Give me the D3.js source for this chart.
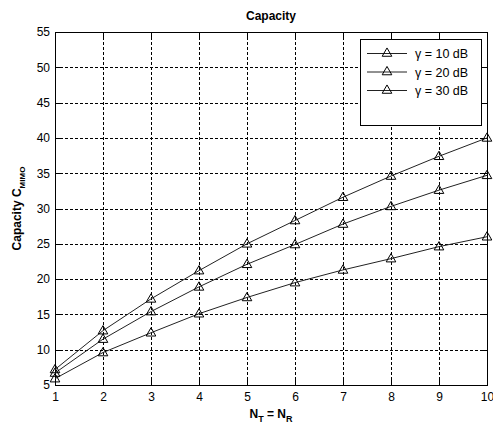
<!DOCTYPE html>
<html>
<head>
<meta charset="utf-8">
<script src="https://cdn.jsdelivr.net/npm/d3@7"></script>
<style>
  html, body { margin: 0; padding: 0; background: #fff; }
  svg { display: block; }
  text { font-family: Arial, "Liberation Sans", Helvetica, sans-serif; fill: #000; }
</style>
</head>
<body>
<svg id="chart" width="493" height="426"></svg>
<script>
// Antenna counts (N_T = N_R)
const antennas = [1, 2, 3, 4, 5, 6, 7, 8, 9, 10];

// Ergodic MIMO capacity per SNR
const cap10dB = [5.9, 9.6, 12.4, 15.1, 17.4, 19.5, 21.3, 22.9, 24.6, 26.0];
const cap20dB = [6.7, 11.5, 15.4, 18.9, 22.1, 24.9, 27.8, 30.3, 32.6, 34.7];
const cap30dB = [7.2, 12.7, 17.2, 21.2, 25.0, 28.3, 31.6, 34.6, 37.4, 40.0];

const seriesNames = ["γ = 10 dB", "γ = 20 dB", "γ = 30 dB"];
const seriesValues = [cap10dB, cap20dB, cap30dB];

const xTicks = [1, 2, 3, 4, 5, 6, 7, 8, 9, 10];
const yTicks = [5, 10, 15, 20, 25, 30, 35, 40, 45, 50, 55];

const svg = d3.select("#chart");
const plot = { left: 55, right: 487, top: 32, bottom: 385 };

const x = d3.scaleLinear().domain([1, 10]).range([plot.left, plot.right]);
const y = d3.scaleLinear().domain([5, 55]).range([plot.bottom, plot.top]);

// Dotted grid
const grid = svg.append("g").attr("stroke", "#000").attr("stroke-width", 1)
  .attr("stroke-dasharray", "3,2").attr("shape-rendering", "crispEdges");
grid.selectAll("line.v").data(xTicks.slice(1, -1)).join("line")
  .attr("x1", d => Math.round(x(d)) + 0.5).attr("x2", d => Math.round(x(d)) + 0.5)
  .attr("y1", plot.top).attr("y2", plot.bottom);
grid.selectAll("line.h").data(yTicks.slice(1, -1)).join("line")
  .attr("y1", d => Math.round(y(d)) + 0.5).attr("y2", d => Math.round(y(d)) + 0.5)
  .attr("x1", plot.left).attr("x2", plot.right);

// Axes with inward ticks on all four sides
const tickLen = 5;
const axB = svg.append("g").attr("transform", `translate(0,${plot.bottom})`)
  .call(d3.axisBottom(x).tickValues(xTicks).tickSizeInner(-tickLen).tickSizeOuter(0).tickPadding(7));
const axT = svg.append("g").attr("transform", `translate(0,${plot.top})`)
  .call(d3.axisTop(x).tickValues(xTicks).tickSizeInner(-tickLen).tickSizeOuter(0).tickFormat(""));
const axL = svg.append("g").attr("transform", `translate(${plot.left},0)`)
  .call(d3.axisLeft(y).tickValues(yTicks).tickSizeInner(-tickLen).tickSizeOuter(0).tickPadding(5));
const axR = svg.append("g").attr("transform", `translate(${plot.right},0)`)
  .call(d3.axisRight(y).tickValues(yTicks).tickSizeInner(-tickLen).tickSizeOuter(0).tickFormat(""));
[axB, axT, axL, axR].forEach(a => {
  a.select(".domain").remove();
  a.selectAll("line").attr("stroke", "#000").attr("shape-rendering", "crispEdges");
  a.selectAll("text").attr("font-size", 12).attr("font-family", "Arial, 'Liberation Sans', sans-serif");
});

// Plot frame
svg.append("rect")
  .attr("x", plot.left + 0.5).attr("y", plot.top + 0.5)
  .attr("width", plot.right - plot.left).attr("height", plot.bottom - plot.top)
  .attr("fill", "none").attr("stroke", "#000").attr("shape-rendering", "crispEdges");

// Series lines and triangle markers
const line = d3.line().x((d, i) => x(antennas[i])).y(d => y(d));
const tri = d3.symbol().type(d3.symbolTriangle).size(40);
seriesValues.forEach(vals => {
  svg.append("path").datum(vals).attr("d", line)
    .attr("fill", "none").attr("stroke", "#222").attr("stroke-width", 1);
  svg.append("g").selectAll("path").data(vals).join("path")
    .attr("d", tri)
    .attr("transform", (d, i) => `translate(${x(antennas[i])},${y(d) + 0.5})`)
    .attr("fill", "none").attr("stroke", "#000").attr("stroke-width", 1);
});

// Legend
const lg = svg.append("g");
lg.append("rect").attr("x", 360.5).attr("y", 39.5).attr("width", 121).attr("height", 86)
  .attr("fill", "#fff").attr("stroke", "#000").attr("shape-rendering", "crispEdges");
seriesNames.forEach((name, i) => {
  const cy = 53.5 + i * 18.5;
  lg.append("line").attr("x1", 367).attr("x2", 407).attr("y1", cy).attr("y2", cy)
    .attr("stroke", "#222");
  lg.append("path").attr("d", tri).attr("transform", `translate(387,${cy})`)
    .attr("fill", "none").attr("stroke", "#000");
  lg.append("text").attr("x", 415).attr("y", cy + 4.5).attr("font-size", 12.5).text(name);
});

// Title and axis labels
svg.append("text").attr("x", (plot.left + plot.right) / 2).attr("y", 20)
  .attr("text-anchor", "middle").attr("font-size", 12).attr("font-weight", "bold").text("Capacity");

const xl = svg.append("text").attr("x", (plot.left + plot.right) / 2).attr("y", 418)
  .attr("text-anchor", "middle").attr("font-size", 12).attr("font-weight", "bold");
xl.append("tspan").text("N");
xl.append("tspan").attr("font-size", 9).attr("dy", 4).text("T");
xl.append("tspan").attr("dy", -4).text(" = N");
xl.append("tspan").attr("font-size", 9).attr("dy", 4).text("R");

const yl = svg.append("text")
  .attr("transform", `translate(21,${(plot.top + plot.bottom) / 2}) rotate(-90)`)
  .attr("text-anchor", "middle").attr("font-size", 12).attr("font-weight", "bold");
yl.append("tspan").text("Capacity C");
yl.append("tspan").attr("font-size", 8).attr("dy", 4).text("MIMO");
</script>
</body>
</html>
